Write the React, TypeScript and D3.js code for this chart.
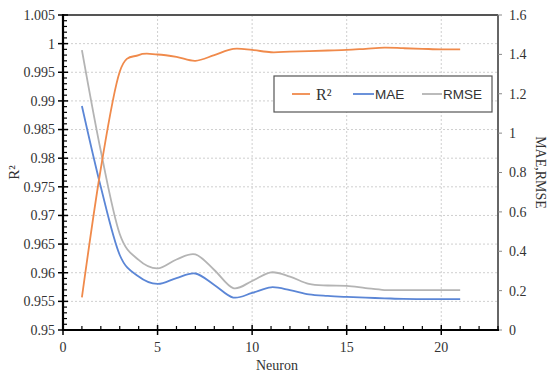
import React from 'react'
import * as d3 from 'd3'

const neurons = [1, 2, 3, 4, 5, 6, 7, 8, 9, 10, 11, 12, 13, 14, 15, 16, 17, 18, 19, 20, 21]
const r2 = [0.9557, 0.9782, 0.9951, 0.998, 0.9981, 0.9977, 0.997, 0.998, 0.9991, 0.9989, 0.9985,
  0.9986, 0.9987, 0.9988, 0.9989, 0.9991, 0.9993, 0.9992, 0.9991, 0.999, 0.999]
const mae = [1.138, 0.726, 0.381, 0.272, 0.234, 0.264, 0.287, 0.229, 0.165, 0.188, 0.217,
  0.203, 0.181, 0.173, 0.168, 0.164, 0.161, 0.158, 0.157, 0.157, 0.157]
const rmse = [1.422, 0.909, 0.488, 0.356, 0.313, 0.358, 0.384, 0.305, 0.213, 0.249, 0.293,
  0.271, 0.234, 0.226, 0.224, 0.213, 0.203, 0.203, 0.203, 0.203, 0.203]

const xTicks = [0, 5, 10, 15, 20]
const leftTicks = [0.95, 0.955, 0.96, 0.965, 0.97, 0.975, 0.98, 0.985, 0.99, 0.995, 1, 1.005]
const rightTicks = [0, 0.2, 0.4, 0.6, 0.8, 1, 1.2, 1.4, 1.6]

const W = 547
const H = 377
const m = {left: 63, top: 15, right: 498, bottom: 330}

const serif = '"Liberation Serif", "Times New Roman", serif'
const sans = '"Liberation Sans", "Open Sans", sans-serif'
const orange = '#F08A4B'
const blue = '#5B86D6'
const gray = '#B4B4B4'

export default function App() {
  const x = d3.scaleLinear().domain([0, 23]).range([m.left, m.right])
  const yL = d3.scaleLinear().domain([0.95, 1.005]).range([m.bottom, m.top])
  const yR = d3.scaleLinear().domain([0, 1.6]).range([m.bottom, m.top])

  const lineL = d3
    .line<number>()
    .x((d, i) => x(neurons[i]))
    .y(d => yL(d))
    .curve(d3.curveCardinal)
  const lineR = d3
    .line<number>()
    .x((d, i) => x(neurons[i]))
    .y(d => yR(d))
    .curve(d3.curveCardinal)

  const minorX = d3.range(0, 24).filter(v => v % 5 !== 0)
  const minorY = d3.range(0, 56).map(i => 0.95 + i * 0.001).filter((v, i) => i % 5 !== 0)

  return (
    <svg width={W} height={H} style={{position: 'absolute', left: 0, top: 0, background: '#fff'}}>
      {/* grid */}
      <g stroke="#CFCFCF" strokeWidth={1} strokeDasharray="2,2">
        {leftTicks.slice(1, -1).map(v => (
          <line key={'h' + v} x1={m.left} x2={m.right} y1={yL(v)} y2={yL(v)} />
        ))}
        {xTicks.slice(1).map(v => (
          <line key={'v' + v} x1={x(v)} x2={x(v)} y1={m.top} y2={m.bottom} />
        ))}
      </g>

      {/* frame */}
      <line x1={m.left} x2={m.right} y1={m.top} y2={m.top} stroke="#555" strokeWidth={2} />
      <line x1={m.right} x2={m.right} y1={m.top} y2={m.bottom} stroke="#666" strokeWidth={2} />

      {/* series */}
      <path d={lineR(rmse) || ''} fill="none" stroke={gray} strokeWidth={1.8} />
      <path d={lineR(mae) || ''} fill="none" stroke={blue} strokeWidth={1.8} />
      <path d={lineL(r2) || ''} fill="none" stroke={orange} strokeWidth={1.8} />

      {/* left axis */}
      <g stroke="#000">
        <line x1={m.left} x2={m.left} y1={m.top - 1} y2={m.bottom + 1} strokeWidth={2.2} />
        {leftTicks.map(v => (
          <line key={'lt' + v} x1={m.left - 5} x2={m.left + 5} y1={yL(v)} y2={yL(v)} strokeWidth={1.5} />
        ))}
        {minorY.map(v => (
          <line key={'lm' + v} x1={m.left} x2={m.left + 4} y1={yL(v)} y2={yL(v)} strokeWidth={1.2} />
        ))}
      </g>
      <g fontFamily={serif} fontSize={14} fill="#333" textAnchor="end">
        {leftTicks.map(v => (
          <text key={'ll' + v} x={m.left - 8} y={yL(v)} dy="0.35em">
            {String(+v.toFixed(3))}
          </text>
        ))}
      </g>

      {/* right axis */}
      <g stroke="#888" strokeWidth={1}>
        {rightTicks.map(v => (
          <line key={'rt' + v} x1={m.right} x2={m.right + 4} y1={yR(v)} y2={yR(v)} />
        ))}
      </g>
      <g fontFamily={serif} fontSize={14} fill="#333" textAnchor="start">
        {rightTicks.map(v => (
          <text key={'rl' + v} x={m.right + 11} y={yR(v)} dy="0.35em">
            {String(v)}
          </text>
        ))}
      </g>

      {/* bottom axis */}
      <g stroke="#000">
        <line x1={m.left - 1} x2={m.right + 1} y1={m.bottom} y2={m.bottom} strokeWidth={2.2} />
        {xTicks.map(v => (
          <line key={'bt' + v} x1={x(v)} x2={x(v)} y1={m.bottom - 5} y2={m.bottom + 5} strokeWidth={1.5} />
        ))}
        {minorX.map(v => (
          <line key={'bm' + v} x1={x(v)} x2={x(v)} y1={m.bottom - 4} y2={m.bottom} strokeWidth={1.2} />
        ))}
      </g>
      <g fontFamily={serif} fontSize={14} fill="#333" textAnchor="middle">
        {xTicks.map(v => (
          <text key={'bl' + v} x={x(v)} y={m.bottom + 22}>
            {String(v)}
          </text>
        ))}
      </g>

      {/* axis titles */}
      <text x={277} y={370} fontFamily={serif} fontSize={14} fill="#333" textAnchor="middle">
        Neuron
      </text>
      <text
        transform={`translate(19, ${(m.top + m.bottom) / 2}) rotate(-90)`}
        fontFamily={serif}
        fontSize={15}
        fill="#333"
        textAnchor="middle"
      >
        R²
      </text>
      <text
        transform={`translate(536, ${(m.top + m.bottom) / 2}) rotate(90)`}
        fontFamily={serif}
        fontSize={14}
        fill="#333"
        textAnchor="middle"
      >
        MAE,RMSE
      </text>

      {/* legend */}
      <g>
        <rect x={274} y={76} width={218} height={36} fill="#fff" stroke="#555" strokeWidth={1.2} />
        <line x1={292} x2={310} y1={94} y2={94} stroke={orange} strokeWidth={1.8} />
        <text x={316} y={99.5} fontFamily={serif} fontSize={16} fill="#333">
          R²
        </text>
        <line x1={353} x2={374} y1={94} y2={94} stroke={blue} strokeWidth={1.8} />
        <text x={375} y={99} fontFamily={sans} fontSize={13.5} fill="#333">
          MAE
        </text>
        <line x1={422} x2={442} y1={94} y2={94} stroke={gray} strokeWidth={1.8} />
        <text x={443} y={99} fontFamily={sans} fontSize={13.5} fill="#333">
          RMSE
        </text>
      </g>
    </svg>
  )
}
